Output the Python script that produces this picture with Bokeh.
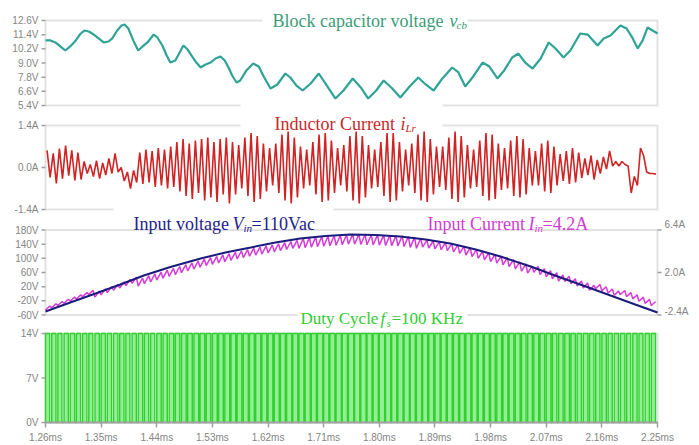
import numpy as np
from bokeh.plotting import figure
from bokeh.models import (Range1d, FixedTicker, PrintfTickFormatter, BoxAnnotation,
                          Label, ColumnDataSource, Arrow)
from bokeh.embed import file_html
from bokeh.resources import INLINE

# ---------------- data ----------------
T_START, T_END = 1.26, 2.25
PERIOD = 0.01  # 100 kHz switching period in ms
x_ticks = [1.26, 1.35, 1.44, 1.53, 1.62, 1.71, 1.80, 1.89, 1.98, 2.07, 2.16, 2.25]

vcb_ticks = [5.4, 6.6, 7.8, 9.0, 10.2, 11.4, 12.6]
vcb_labels = ["5.4V", "6.6V", "7.8V", "9.0V", "10.2V", "11.4V", "12.6V"]
ilr_ticks = [-1.4, 0.0, 1.4]
ilr_labels = ["-1.4A", "0.0A", "1.4A"]
vin_ticks = [-60, -20, 20, 60, 100, 140, 180]
vin_labels = ["-60V", "-20V", "20V", "60V", "100V", "140V", "180V"]
iin_ticks = [-2.4, 2.0, 6.4]
iin_labels = ["-2.4A", "2.0A", "6.4A"]
duty_ticks = [0, 7, 14]
duty_labels = ["0V", "7V", "14V"]

# Block capacitor voltage v_cb (ms, V)
vcb_t = [1.260, 1.268, 1.276, 1.284, 1.292, 1.300, 1.309, 1.317, 1.323, 1.330, 1.338, 1.346,
         1.354, 1.362, 1.368, 1.376, 1.383, 1.388, 1.394, 1.402, 1.410, 1.417, 1.425, 1.435,
         1.441, 1.449, 1.456, 1.462, 1.470, 1.477, 1.483, 1.490, 1.496, 1.504, 1.511, 1.519,
         1.527, 1.535, 1.543, 1.550, 1.556, 1.562, 1.569, 1.575, 1.585, 1.596, 1.605, 1.613,
         1.624, 1.635, 1.648, 1.656, 1.666, 1.676, 1.689, 1.702, 1.713, 1.729, 1.742, 1.757,
         1.770, 1.782, 1.795, 1.807, 1.821, 1.834, 1.849, 1.863, 1.875, 1.888, 1.902, 1.918,
         1.928, 1.939, 1.952, 1.967, 1.978, 1.991, 2.002, 2.015, 2.025, 2.036, 2.048, 2.061,
         2.074, 2.085, 2.098, 2.109, 2.125, 2.137, 2.153, 2.163, 2.174, 2.190, 2.200, 2.210,
         2.218, 2.226, 2.234, 2.242, 2.250]
vcb_v = [10.91, 10.91, 10.74, 10.40, 10.06, 10.40, 10.91, 11.50, 11.75, 11.67, 11.41, 11.08,
         10.74, 10.82, 11.08, 11.75, 12.18, 12.26, 11.92, 10.91, 10.06, 10.40, 10.74, 11.41,
         11.16, 10.48, 9.64, 9.04, 9.21, 9.89, 10.48, 10.14, 9.64, 9.04, 8.62, 8.87,
         9.04, 9.38, 9.55, 9.21, 8.62, 7.94, 7.35, 7.52, 8.37, 8.96, 8.70, 7.86,
         6.84, 7.18, 8.11, 7.77, 7.09, 6.67, 7.26, 8.11, 7.26, 5.99, 6.67, 7.69,
         6.93, 5.99, 6.67, 7.52, 6.84, 6.08, 7.01, 7.77, 7.18, 6.67, 7.69, 8.62,
         8.20, 7.01, 7.86, 9.04, 8.70, 7.69, 8.37, 9.47, 9.80, 9.04, 8.53, 9.38,
         10.74, 10.23, 9.47, 10.06, 11.50, 11.41, 10.48, 11.08, 11.33, 12.18, 11.92, 11.08,
         10.23, 10.91, 12.01, 11.75, 11.50]

# Inductor current i_Lr: peak / valley of each switching cycle (A)
ilr_peak = [0.57, 0.47, 0.63, 0.73, 0.57, 0.50, 0.20, 0.10, 0.23, 0.15, 0.30, 0.47, 0.00, -0.15, -0.10,
            0.50, 0.60, 0.55, 0.65, 0.60, 0.70, 0.85, 0.95, 0.80, 0.90, 0.95, 1.00, 0.85, 0.95, 1.00, 0.85,
            0.75, 1.00, 1.15, 1.05, 0.80, 0.65, 0.80, 1.10, 1.20, 1.00, 0.70, 0.60, 0.85, 1.10, 1.15,
            0.90, 0.65, 0.75, 1.05, 1.20, 1.05, 0.75, 0.60, 0.85, 1.15, 1.15, 0.85, 0.60, 0.80, 1.10,
            1.20, 0.95, 0.70, 0.70, 1.00, 1.20, 1.05, 0.75, 0.60, 0.90, 1.15, 1.10, 0.80, 0.65, 0.90,
            1.05, 0.95, 0.65, 0.55, 0.80, 0.90, 0.70, 0.45, 0.55, 0.65, 0.50, 0.30, 0.40, 0.25, 0.35,
            0.55, 0.20, 0.20, 0.05, -0.30, 0.65, -0.15, -0.20]
ilr_valley = [-0.33, -0.53, -0.37, -0.27, -0.43, -0.40, -0.20, -0.30, -0.37, -0.25, -0.20, -0.15, -0.45, -0.70, -0.50,
              -0.55, -0.50, -0.65, -0.60, -0.70, -0.65, -0.80, -0.95, -1.05, -0.85, -1.10, -1.00, -1.15, -0.90, -1.20, -0.90,
              -0.70, -0.95, -1.15, -1.05, -0.80, -0.60, -0.85, -1.10, -1.20, -1.00, -0.70, -0.60, -0.90, -1.15, -1.10,
              -0.85, -0.60, -0.80, -1.10, -1.20, -1.00, -0.70, -0.65, -0.95, -1.15, -1.10, -0.80, -0.60, -0.85, -1.10,
              -1.15, -0.90, -0.65, -0.75, -1.05, -1.15, -1.00, -0.70, -0.65, -0.95, -1.10, -1.05, -0.75, -0.70, -0.95,
              -1.00, -0.90, -0.60, -0.60, -0.80, -0.85, -0.60, -0.45, -0.55, -0.50, -0.35, -0.25, -0.40, -0.20, -0.05,
              0.05, 0.05, 0.10, -0.85, -0.60, 0.40, -0.20, -0.22]

# Input voltage V_in (ms, V)
vin_t = [1.260, 1.300, 1.341, 1.381, 1.419, 1.462, 1.511, 1.551, 1.592, 1.632, 1.672, 1.713, 1.753,
         1.794, 1.834, 1.875, 1.915, 1.956, 1.996, 2.045, 2.093, 2.134, 2.174, 2.214, 2.250]
vin_v = [-50.1, -24.7, 0.7, 26.1, 51.5, 75.5, 99.5, 116.5, 130.6, 144.7, 156.0, 163.1, 167.3,
         165.9, 161.6, 153.2, 141.9, 124.9, 105.2, 76.9, 45.9, 20.4, -5.0, -30.4, -53.0]

# Input current I_in: peak / valley of each switching cycle (A)
iin_peak = [-1.47, -1.24, -1.00, -0.77, -0.54, -0.32, -0.08, 0.15,
            0.07, 0.30, 0.54, 0.78, 1.02, 1.27, 1.51,
            1.43, 1.67, 1.86, 2.04, 2.24, 2.43, 2.62, 2.81, 3.00, 3.19, 3.38, 3.54, 3.67, 3.82, 3.95,
            4.09, 4.24, 4.37, 4.52, 4.63, 4.75, 4.86, 4.97, 5.10, 5.21, 5.33,
            5.54, 5.61, 5.66, 5.72, 5.76, 5.81, 5.86, 5.91, 5.97, 5.97, 5.94, 5.91, 5.89, 5.87, 5.84,
            5.82, 5.79, 5.73, 5.64, 5.55,
            5.36, 5.26, 5.17, 5.09, 5.00, 4.87, 4.71, 4.54, 4.37, 4.20, 4.03, 3.87, 3.70, 3.53, 3.33,
            3.10, 2.88, 2.66,
            2.63, 2.40, 2.18, 1.97, 1.74,
            1.60, 1.36, 1.13, 0.91, 0.67,
            0.75, 0.52, 0.29, 0.07,
            0.14, -0.08, -0.31, -0.55, -0.78, -1.00]
iin_valley = [-1.89, -1.66, -1.42, -1.19, -0.96, -0.74, -0.50, -0.27,
              -0.55, -0.32, -0.08, 0.16, 0.40, 0.65, 0.89,
              0.60, 0.84, 1.03, 1.21, 1.41, 1.60, 1.79, 1.98, 2.17, 2.36, 2.55, 2.71, 2.84, 2.99, 3.12,
              3.26, 3.41, 3.54, 3.69, 3.80, 3.92, 4.03, 4.14, 4.27, 4.38, 4.50,
              4.50, 4.57, 4.62, 4.68, 4.72, 4.77, 4.82, 4.87, 4.93, 4.93, 4.90, 4.87, 4.85, 4.83, 4.80,
              4.78, 4.75, 4.69, 4.60, 4.51,
              4.63, 4.53, 4.44, 4.36, 4.27, 4.14, 3.98, 3.81, 3.64, 3.47, 3.30, 3.14, 2.97, 2.80, 2.60,
              2.37, 2.15, 1.93,
              2.01, 1.78, 1.56, 1.35, 1.12,
              1.08, 0.84, 0.61, 0.39, 0.15,
              0.33, 0.10, -0.13, -0.35,
              -0.28, -0.50, -0.73, -0.97, -1.20, -1.42]

# Gate drive duty cycle of each switching period
duty = [0.68, 0.70, 0.66, 0.70, 0.72, 0.68, 0.70, 0.66, 0.72, 0.70, 0.68, 0.72, 0.70, 0.66, 0.70, 0.72, 0.70, 0.68, 0.72, 0.70,
        0.74, 0.72, 0.76, 0.74, 0.78, 0.76, 0.74, 0.78, 0.76, 0.80, 0.78, 0.76, 0.80, 0.78, 0.82, 0.80, 0.78, 0.82, 0.80, 0.84,
        0.82, 0.80, 0.84, 0.82, 0.86, 0.84, 0.82, 0.86, 0.84, 0.86, 0.84, 0.86, 0.82, 0.84, 0.86, 0.84, 0.82, 0.84, 0.86, 0.82,
        0.84, 0.82, 0.80, 0.84, 0.82, 0.80, 0.82, 0.78, 0.80, 0.82, 0.78, 0.80, 0.76, 0.78, 0.80, 0.76, 0.78, 0.74, 0.76, 0.78,
        0.74, 0.76, 0.72, 0.74, 0.76, 0.72, 0.70, 0.74, 0.72, 0.70, 0.72, 0.68, 0.70, 0.72, 0.68, 0.70, 0.66, 0.70, 0.68]
DUTY_HIGH = 14

# ---------------- layout / style ----------------
W, H = 699, 445             # the frame covers the whole canvas
PL, PR = 45, 657            # page columns of the plot's left / right border
FRAME = "#a0a0a0"
TICKC = "#858585"
SERIF = "Liberation Serif"
SANS = "Liberation Sans"

sx = (T_END - T_START) / (PR - PL)
x_range = Range1d(start=T_START - PL * sx, end=T_END + (W - PR) * sx)


def band(lo, hi, y_hi, y_lo):
    """Range whose values lo..hi occupy page rows y_lo..y_hi of the frame."""
    s = (hi - lo) / (y_lo - y_hi)
    return Range1d(start=lo - (H - y_lo) * s, end=hi + y_hi * s)


p = figure(frame_width=W, frame_height=H, x_range=x_range, y_range=band(0, 14, 333, 422),
           y_axis_location=None, output_backend="svg", toolbar_location=None,
           min_border_left=0, min_border_right=0, min_border_top=0, min_border_bottom=0)
p.extra_y_ranges = {
    "vcb": band(5.4, 12.6, 20, 105),
    "ilr": band(-1.4, 1.4, 125, 209),
    "vin": band(-60, 180, 229.5, 314.5),
    "iin": band(-2.4, 6.4, 229.5, 314.5),
    "px": Range1d(H, 0),
}
p.extra_x_ranges = {"px": Range1d(0, W)}
p.grid.visible = False
p.outline_line_color = None
p.background_fill_color = "white"
p.border_fill_color = "white"

ax = p.xaxis[0]
ax.fixed_location = 0          # time axis sits on the 0 V line of the duty-cycle panel
ax.bounds = (T_START, T_END)
ax.ticker = FixedTicker(ticks=x_ticks, minor_ticks=[])
ax.formatter = PrintfTickFormatter(format="%.2fms")
ax.axis_line_color = FRAME
ax.axis_line_width = 2
ax.major_tick_line_color = FRAME
ax.major_tick_line_width = 1.5
ax.major_tick_out = 5
ax.major_tick_in = 0
ax.minor_tick_out = 0
ax.minor_tick_in = 0
ax.major_label_standoff = 4
ax.major_label_text_font = SANS
ax.major_label_text_font_size = "10px"
ax.major_label_text_color = TICKC

# panel frames
for lo, hi, name in [(5.4, 12.6, "vcb"), (-1.4, 1.4, "ilr"), (-60, 180, "vin"), (0, 14, "default")]:
    p.add_layout(BoxAnnotation(left=T_START, right=T_END, bottom=lo, top=hi, y_range_name=name,
                               fill_color=None, line_color=FRAME, line_width=2, level="underlay"))

cyc = T_START + PERIOD * np.arange(len(duty))

# panel 4: duty cycle pulses
on_end = cyc + np.array(duty) * PERIOD
p.quad(left=cyc, right=on_end, bottom=0, top=DUTY_HIGH, fill_color="#94ee94", line_color=None)
dx = np.ravel(np.column_stack([cyc, cyc, on_end, on_end]))
dy = np.tile([0, DUTY_HIGH, DUTY_HIGH, 0], len(cyc))
p.line(np.append(dx, T_END), np.append(dy, 0), line_color="#2fd02f", line_width=1.4)

# panel 1: block capacitor voltage
p.line(vcb_t, vcb_v, y_range_name="vcb", line_color="#2fa396", line_width=2.2)

# panel 2: inductor current
ilr_t = np.ravel(np.column_stack([cyc + 0.25 * PERIOD, cyc + 0.75 * PERIOD]))
ilr_i = np.ravel(np.column_stack([ilr_peak, ilr_valley]))
p.line(ilr_t, ilr_i, y_range_name="ilr", line_color="#d02424", line_width=1.6)

# panel 3: input current and input voltage
iin_t = np.ravel(np.column_stack([cyc, cyc + 0.7 * PERIOD]))
iin_i = np.ravel(np.column_stack([iin_valley, iin_peak]))
p.line(iin_t, iin_i, y_range_name="iin", line_color="#d63ad6", line_width=1.5)
p.line(vin_t, vin_v, y_range_name="vin", line_color="#1b1b7c", line_width=2)


# tick labels and tick marks of the panels
def add_ticks(vals, labels, yname, side, dy=None):
    n = len(vals)
    dy = dy or [0] * n
    if side == "left":
        x0, x1, off, align = PL, PL - 4, -7, "right"
    else:
        x0, x1, off, align = PR, PR + 4, 7, "left"
    for v, txt, d in zip(vals, labels, dy):
        p.add_layout(Label(x=x0, y=v, x_range_name="px", y_range_name=yname, text=txt,
                           x_offset=off, y_offset=d, text_align=align, text_baseline="middle",
                           text_font=SANS, text_font_size="10px", text_color=TICKC))
    tsrc = ColumnDataSource(dict(x0=[x0] * n, x1=[x1] * n, y=vals))
    p.add_layout(Arrow(end=None, source=tsrc, x_start="x0", y_start="y", x_end="x1", y_end="y",
                       x_range_name="px", y_range_name=yname, line_color=FRAME, line_width=1.5))


add_ticks(vcb_ticks, vcb_labels, "vcb", "left")
add_ticks(ilr_ticks, ilr_labels, "ilr", "left")
add_ticks(vin_ticks, vin_labels, "vin", "left")
add_ticks(duty_ticks, duty_labels, "default", "left")
add_ticks(iin_ticks, iin_labels, "iin", "right", dy=[4, 0, 6])

# white gaps in the frame lines behind the titles
for l, r, t, b in [(262, 467, 10, 23), (240, 442, 103.5, 127.5), (113, 333, 206, 212.5), (297, 467, 311, 318)]:
    p.add_layout(BoxAnnotation(left=l, right=r, top=t, bottom=b, x_range_name="px", y_range_name="px",
                               fill_color="white", fill_alpha=1, line_color=None, level="annotation"))


def title_piece(x, y, text, color, size=18, italic=False):
    p.add_layout(Label(x=x, y=y, x_range_name="px", y_range_name="px", text=text,
                       text_font=SERIF, text_font_size=f"{size}px", text_color=color,
                       text_font_style="italic" if italic else "normal",
                       text_align="left", text_baseline="alphabetic"))


C1, C2, C3, C4, C5 = "#3c9c78", "#c82828", "#22228a", "#d23cd2", "#33cc33"
title_piece(272, 20, "Block capacitor voltage", C1)
title_piece(449, 20, "v", C1, italic=True)
title_piece(456, 24, "cb", C1, size=11, italic=True)

title_piece(274, 123, "Inductor Current", C2)
title_piece(400, 123, "i", C2, italic=True)
title_piece(405, 127, "Lr", C2, size=11, italic=True)

title_piece(133, 223, "Input voltage", C3)
title_piece(232, 223, "V", C3, italic=True)
title_piece(243, 227, "in", C3, size=11, italic=True)
title_piece(251, 223, "=110Vac", C3)

title_piece(427, 223, "Input Current", C4)
title_piece(528, 223, "I", C4, italic=True)
title_piece(534, 227, "in", C4, size=11, italic=True)
title_piece(542, 223, "=4.2A", C4)

title_piece(300, 318, "Duty Cycle", C5, size=17)
title_piece(380, 318, "f", C5, size=17, italic=True)
title_piece(386, 322, "s", C5, size=11, italic=True)
title_piece(391, 318, "=100 KHz", C5, size=17)

open("out.html", "w").write(file_html(p, INLINE))
